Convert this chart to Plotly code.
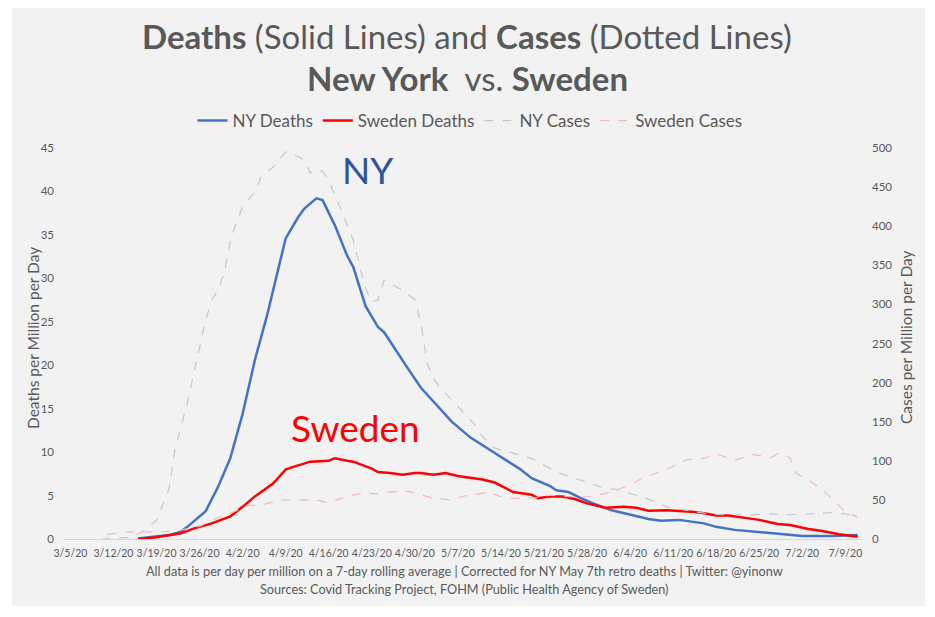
import pandas as pd
import plotly.graph_objects as go

YEAR = "2020/"

# NY deaths per million per day (7-day avg)
ny_deaths_dates = ["3/16", "3/21", "3/23", "3/24", "3/27", "3/29", "3/31", "4/2", "4/4", "4/6",
                   "4/9", "4/11", "4/12", "4/14", "4/15", "4/17", "4/19", "4/20", "4/22", "4/24",
                   "4/25", "4/27", "4/29", "5/1", "5/3", "5/6", "5/9", "5/11", "5/12", "5/15",
                   "5/17", "5/19", "5/22", "5/23", "5/25", "5/27", "5/29", "6/1", "6/4", "6/7",
                   "6/9", "6/12", "6/16", "6/18", "6/21", "6/23", "6/26", "6/29", "7/2", "7/7", "7/11"]
ny_deaths = [0.05, 0.45, 0.85, 1.4, 3.2, 6.0, 9.3, 14.4, 20.6, 25.8,
             34.6, 37.0, 38.0, 39.2, 39.0, 36.1, 32.6, 31.3, 26.8, 24.4,
             23.8, 21.6, 19.5, 17.4, 15.8, 13.5, 11.7, 10.8, 10.4, 9.0,
             8.1, 7.0, 6.1, 5.6, 5.4, 4.7, 4.1, 3.3, 2.8, 2.3,
             2.1, 2.2, 1.8, 1.4, 1.05, 0.92, 0.65, 0.54, 0.35, 0.35, 0.46]

# Sweden deaths per million per day
se_deaths_dates = ["3/16", "3/19", "3/23", "3/25", "3/28", "3/31", "4/2", "4/4", "4/7", "4/9",
                   "4/10", "4/13", "4/16", "4/17", "4/19", "4/20", "4/23", "4/24", "4/26", "4/28",
                   "4/30", "5/1", "5/3", "5/5", "5/7", "5/9", "5/11", "5/13", "5/15", "5/16",
                   "5/19", "5/20", "5/22", "5/24", "5/26", "5/28", "5/31", "6/3", "6/5", "6/7",
                   "6/10", "6/14", "6/16", "6/18", "6/20", "6/22", "6/25", "6/28", "6/30", "7/3",
                   "7/5", "7/8", "7/11"]
se_deaths = [0.0, 0.2, 0.65, 1.2, 1.8, 2.6, 3.7, 4.9, 6.4, 8.0,
             8.25, 8.9, 9.0, 9.3, 9.0, 8.9, 8.1, 7.7, 7.6, 7.4,
             7.6, 7.6, 7.4, 7.6, 7.25, 7.05, 6.85, 6.5, 5.8, 5.4,
             5.1, 4.7, 4.9, 4.9, 4.6, 4.1, 3.6, 3.7, 3.6, 3.26,
             3.3, 3.15, 2.96, 2.7, 2.7, 2.5, 2.2, 1.73, 1.6, 1.15,
             0.96, 0.54, 0.27]

# NY cases per million per day
ny_cases_dates = ["3/10", "3/15", "3/17", "3/19", "3/21", "3/22", "3/24", "3/25", "3/26", "3/27",
                  "3/28", "3/29", "3/30", "3/31", "4/1", "4/2", "4/4", "4/5", "4/7", "4/9",
                  "4/10", "4/12", "4/13", "4/14", "4/15", "4/16", "4/18", "4/20", "4/21", "4/22",
                  "4/23", "4/24", "4/25", "4/26", "4/28", "4/30", "5/1", "5/2", "5/3", "5/4",
                  "5/6", "5/8", "5/10", "5/11", "5/13", "5/15", "5/19", "5/20", "5/22", "5/24",
                  "5/27", "5/30", "6/2", "6/4", "6/7", "6/10", "6/13", "6/16", "6/19", "6/23",
                  "6/27", "6/30", "7/3", "7/7", "7/9", "7/11"]
ny_cases = [0, 2, 11, 24, 63, 114, 174, 210, 245, 280,
            306, 318, 340, 382, 405, 425, 444, 463, 476, 495,
            493, 485, 468, 472, 470, 459, 421, 382, 350, 320,
            303, 306, 331, 327, 318, 306, 276, 225, 205, 195,
            178, 160, 144, 131, 116, 112, 103, 99, 90, 83,
            75, 67, 63, 58, 51, 41, 37, 33, 31, 31,
            32, 31, 32, 34, 32, 28]

# Sweden cases per million per day
se_cases_dates = ["3/11", "3/14", "3/20", "3/23", "3/26", "3/28", "3/31", "4/3", "4/5", "4/8",
                  "4/14", "4/16", "4/18", "4/21", "4/24", "4/27", "4/29", "5/1", "5/3", "5/6",
                  "5/8", "5/10", "5/12", "5/14", "5/16", "5/20", "5/22", "5/25", "5/28", "5/31",
                  "6/2", "6/4", "6/6", "6/8", "6/10", "6/13", "6/16", "6/18", "6/21", "6/22",
                  "6/24", "6/27", "6/28", "6/30", "7/1", "7/3", "7/5", "7/7", "7/9", "7/11"]
se_cases = [6, 9, 9, 11.5, 16, 24, 33, 43, 43, 50,
            50, 46, 52, 58, 58, 61, 61, 56, 52, 50,
            55, 57, 60, 54, 52, 53, 56, 54, 54, 58,
            63, 69, 78, 84, 89, 101, 103, 109, 101, 103,
            108, 104, 109, 104, 84, 75, 65, 50, 35, 28]

tick_dates = ["3/5", "3/12", "3/19", "3/26", "4/2", "4/9", "4/16", "4/23", "4/30", "5/7",
              "5/14", "5/21", "5/28", "6/4", "6/11", "6/18", "6/25", "7/2", "7/9"]
tick_labels = [d + "/20" for d in tick_dates]


def to_dt(lst):
    return pd.to_datetime([YEAR + s for s in lst], format="%Y/%m/%d")


FONT = "Lato"
GREY = "#595959"

# page has an 8px body margin; layout below is expressed in screen pixels
OFF = 8
SCR_L, SCR_R, SCR_T, SCR_B = 64, 863, 148, 539   # plot area in screen px
W, H = 935 - OFF, 617 - OFF
L, T = SCR_L - OFF, SCR_T - OFF
R, B = W - (SCR_R - OFF), H - (SCR_B - OFF)
pw, ph = SCR_R - SCR_L, SCR_B - SCR_T


def px(xs):
    return (xs - SCR_L) / pw


def py(ys):
    return (SCR_B - ys) / ph


fig = go.Figure()
fig.add_trace(go.Scatter(x=to_dt(ny_deaths_dates), y=ny_deaths, name="NY Deaths", mode="lines",
                         line=dict(color="#4472C4", width=2.5)))
fig.add_trace(go.Scatter(x=to_dt(se_deaths_dates), y=se_deaths, name="Sweden Deaths", mode="lines",
                         line=dict(color="#FF0000", width=2.5)))
fig.add_trace(go.Scatter(x=to_dt(ny_cases_dates), y=ny_cases, name="NY Cases", mode="lines",
                         line=dict(color="#c3c7d3", width=1.2, dash="dash"), yaxis="y2"))
fig.add_trace(go.Scatter(x=to_dt(se_cases_dates), y=se_cases, name="Sweden Cases", mode="lines",
                         line=dict(color="#f5b8b8", width=1.2, dash="dash"), yaxis="y2"))

fig.update_layout(
    width=W, height=H,
    margin=dict(l=L, r=R, t=T, b=B, pad=0, autoexpand=False),
    paper_bgcolor="white",
    plot_bgcolor="#f2f2f2",
    font=dict(family=FONT, color=GREY),
    showlegend=True,
    legend=dict(orientation="h", x=px(470), xanchor="center", y=py(121), yanchor="middle",
                font=dict(size=17, color=GREY), bgcolor="rgba(0,0,0,0)", itemwidth=30),
    xaxis=dict(type="date", range=["2020-03-03 23:00", "2020-07-11 21:00"],
               tickvals=to_dt(tick_dates), ticktext=tick_labels, tickangle=0, automargin=False,
               tickfont=dict(size=10.5, color=GREY), showgrid=False, zeroline=False,
               showline=True, linecolor="#d9d9d9", linewidth=1, ticks="", ticklabelstandoff=4),
    yaxis=dict(range=[0, 45], dtick=5, showgrid=False, zeroline=False, showline=False, automargin=False,
               tickfont=dict(size=11.5, color=GREY), ticks="", ticklabelstandoff=9),
    yaxis2=dict(range=[0, 500], dtick=50, overlaying="y", side="right", showgrid=False, automargin=False,
                zeroline=False, showline=False, tickfont=dict(size=11.5, color=GREY), ticks="",
                ticklabelstandoff=8),
)

fig.add_shape(type="rect", xref="paper", yref="paper", x0=px(12), x1=px(925), y0=py(606), y1=py(7),
              fillcolor="#f2f2f2", line=dict(width=0), layer="below")

anns = [
    dict(text="<b>Deaths</b> (Solid Lines) and <b>Cases</b> (Dotted Lines)", x=px(467), y=py(36), size=33),
    dict(text="<b>New York</b>\u00a0 vs. <b>Sweden</b>", x=px(467), y=py(78), size=33),
    dict(text="All data is per day per million on a 7-day rolling average | Corrected for NY May 7th retro deaths | Twitter: @yinonw",
         x=px(464), y=py(571), size=12.7),
    dict(text="Sources: Covid Tracking Project, FOHM (Public Health Agency of Sweden)", x=px(464), y=py(589), size=12.7),
]
for a in anns:
    fig.add_annotation(text=a["text"], x=a["x"], y=a["y"], xref="paper", yref="paper",
                       showarrow=False, xanchor="center", yanchor="middle",
                       font=dict(family=FONT, size=a["size"], color=GREY))

fig.add_annotation(text="Deaths per Million per Day", x=px(33), y=py(338), xref="paper", yref="paper",
                   xanchor="center", yanchor="middle",
                   textangle=-90, showarrow=False, font=dict(family=FONT, size=15.5, color=GREY))
fig.add_annotation(text="Cases per Million per Day", x=px(906), y=py(338), xref="paper", yref="paper",
                   xanchor="center", yanchor="middle",
                   textangle=-90, showarrow=False, font=dict(family=FONT, size=15.5, color=GREY))

fig.add_annotation(text="NY", x=pd.Timestamp("2020-04-22 08:00"), y=42.5, xref="x", yref="y",
                   showarrow=False, font=dict(family=FONT, size=37, color="#2F5597"))
fig.add_annotation(text="Sweden", x=pd.Timestamp("2020-04-20 10:00"), y=12.8, xref="x", yref="y",
                   showarrow=False, font=dict(family=FONT, size=37, color="#FF0000"))

fig.write_html("out.html")
